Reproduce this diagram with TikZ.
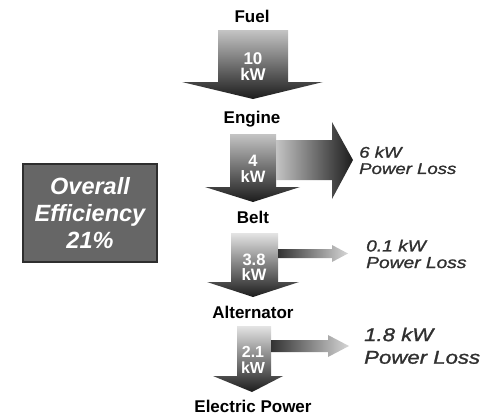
\documentclass[tikz,border=0pt]{standalone}
\usepackage{fontspec}
\setmainfont{Liberation Sans}
\newfontfamily\lossfont[FakeStretch=1.2,FakeBold=1.3]{Liberation Sans}
\definecolor{boxfill}{HTML}{666666}
\definecolor{boxline}{HTML}{2E2E2E}
\definecolor{lossgray}{HTML}{303030}
\definecolor{dark}{HTML}{1C1C1C}
\definecolor{mid}{HTML}{6A6A6A}
\definecolor{light}{HTML}{C4C4C4}
\definecolor{lighter}{HTML}{E4E4E4}
\definecolor{pale}{HTML}{D6D6D6}
\begin{document}
\begin{tikzpicture}[x=1pt,y=-1pt,
  stage/.style={font=\fontsize{17}{17}\selectfont\bfseries, text=black, inner sep=0pt, anchor=base},
  flow/.style={text=white, align=center, inner sep=0pt},
  losstext/.style={text=lossgray, align=left, anchor=west, inner sep=0pt},
  mainshade/.style={top color=#1, middle color=mid, bottom color=dark},
  lossdark/.style={left color=dark!90!white, right color=pale},
]
\useasboundingbox (0,0) rectangle (499,416);

% stage labels
\node[stage] (fuel) at (252,22) {Fuel};
\node[stage] (engine) at (252,123) {Engine};
\node[stage] (belt) at (253,223) {Belt};
\node[stage] (alt) at (253,318) {Alternator};
\node[stage] (elec) at (253,412) {Electric Power};

% main flow arrows
\shade[mainshade=light] (218,30) -- (288,30) -- (288,82) -- (323,82) -- (253,99) -- (182,82) -- (218,82) -- cycle;
\shade[mainshade=light] (230,134) -- (276,134) -- (276,187) -- (300,187) -- (253,202) -- (205,187) -- (230,187) -- cycle;
\shade[mainshade=lighter] (231,233) -- (278,233) -- (278,282) -- (299,282) -- (253,297) -- (207,282) -- (231,282) -- cycle;
\shade[mainshade=lighter] (237,326) -- (271,326) -- (271,376) -- (283,376) -- (252,392) -- (213,376) -- (237,376) -- cycle;

% loss arrows
\shade[left color=light, middle color=mid, right color=dark] (276,140) -- (332,140) -- (332,122) -- (353,160) -- (332,199) -- (332,180) -- (276,180) -- cycle;
\shade[lossdark] (278,249) -- (332,249) -- (332,245) -- (348,253.5) -- (332,262) -- (332,258) -- (278,258) -- cycle;
\shade[lossdark] (271,340) -- (328,340) -- (328,335) -- (349,346) -- (328,357) -- (328,352) -- (271,352) -- cycle;

% flow values
\node[flow, font=\fontsize{17}{16}\selectfont\bfseries] (f1) at (253,67) {10\\kW};
\node[flow, font=\fontsize{16.5}{16.5}\selectfont\bfseries] (f2) at (253,169) {4\\kW};
\node[flow, font=\fontsize{16.5}{15.5}\selectfont\bfseries] (f3) at (254,267) {3.8\\kW};
\node[flow, font=\fontsize{16}{15.5}\selectfont\bfseries] (f4) at (253,360) {2.1\\kW};

% loss labels
\node[losstext, font=\lossfont\itshape\fontsize{15.5}{16.3}\selectfont] (l1) at (359,160.3) {6 kW\\Power Loss};
\node[losstext, font=\lossfont\itshape\fontsize{16}{16.6}\selectfont] (l2) at (366,254) {0.1 kW\\Power Loss};
\node[losstext, font=\lossfont\itshape\fontsize{18.5}{22.6}\selectfont] (l3) at (364,345.8) {1.8 kW\\Power Loss};

% efficiency box
\node[draw=boxline, line width=1.2pt, fill=boxfill, minimum width=134pt, minimum height=98pt, inner sep=0pt] (box) at (90,213) {};
\node[text=white, align=center, inner sep=0pt, font=\fontsize{23.5}{27}\selectfont\bfseries\itshape] (eff) at (90,213) {Overall\\Efficiency\\21\%};
\end{tikzpicture}
\end{document}
